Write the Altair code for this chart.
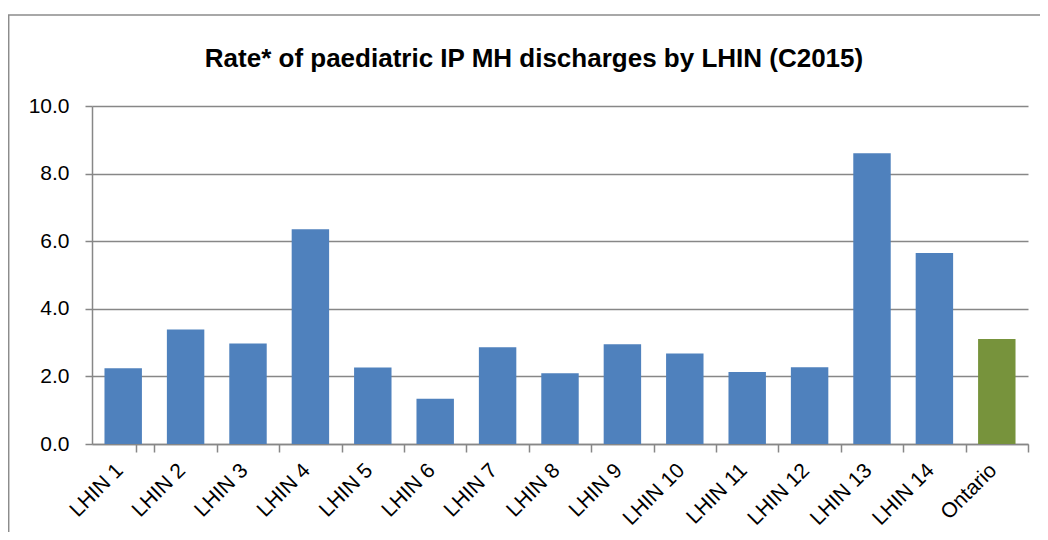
import altair as alt
import pandas as pd

categories = ["LHIN 1", "LHIN 2", "LHIN 3", "LHIN 4", "LHIN 5", "LHIN 6", "LHIN 7",
              "LHIN 8", "LHIN 9", "LHIN 10", "LHIN 11", "LHIN 12", "LHIN 13",
              "LHIN 14", "Ontario"]
rates = [2.24, 3.39, 2.97, 6.35, 2.26, 1.34, 2.86, 2.09, 2.95, 2.68, 2.13, 2.27,
         8.60, 5.65, 3.11]
groups = ["LHIN"] * 14 + ["Province"]
y_ticks = [0, 2, 4, 6, 8, 10]

df = pd.DataFrame({"region": categories, "rate": rates, "group": groups})
frame_df = pd.DataFrame({"k": [0]})

FONT = "Liberation Sans"
GRAY = "#878787"

bars = alt.Chart(df).mark_bar().encode(
    x=alt.X(
        "region:N",
        sort=categories,
        title=None,
        scale=alt.Scale(paddingInner=0.4, paddingOuter=0.2),
        axis=alt.Axis(
            labelAngle=315,
            labelAlign="right",
            labelBaseline="middle",
            labelFontSize=21,
            labelFont=FONT,
            labelColor="#000000",
            labelPadding=15,
            tickOffset=31.2,
            labelOffset=-35,
            tickExtra=True,
            tickSize=8,
            tickColor=GRAY,
            tickWidth=1.5,
            domainColor=GRAY,
            domainWidth=1.5,
            grid=False,
            labelBound=False,
        ),
    ),
    y=alt.Y(
        "rate:Q",
        title=None,
        scale=alt.Scale(domain=[0, 10], nice=False),
        axis=alt.Axis(
            values=y_ticks,
            format=".1f",
            labelFontSize=21,
            labelFont=FONT,
            labelColor="#000000",
            labelPadding=16,
            tickSize=7,
            tickColor=GRAY,
            tickWidth=1.5,
            domainColor=GRAY,
            domainWidth=1.5,
            grid=True,
            gridColor=GRAY,
            gridWidth=1.5,
        ),
    ),
    color=alt.Color(
        "group:N",
        scale=alt.Scale(domain=["LHIN", "Province"], range=["#4F81BD", "#77933C"]),
        legend=None,
    ),
)

frame = alt.Chart(frame_df).mark_rect(filled=False, stroke="#8c8c8c", strokeWidth=1.5).encode(
    x=alt.value(-83.3),
    x2=alt.value(1200),
    y=alt.value(-91),
    y2=alt.value(700),
)

chart = alt.layer(frame, bars).properties(
    width=936,
    height=338,
    padding={"left": 84, "top": 98, "right": 12, "bottom": 88},
    autosize=alt.AutoSizeParams(type="none"),
    title=alt.TitleParams(
        "Rate* of paediatric IP MH discharges by LHIN (C2015)",
        font=FONT,
        fontSize=26,
        fontWeight="bold",
        color="#000000",
        anchor="middle",
        frame="group",
        baseline="alphabetic",
        offset=-79,
        dx=-26,
    ),
).configure_view(stroke=None)

chart.save("out.html", embed_options={"renderer": "svg", "actions": False})
